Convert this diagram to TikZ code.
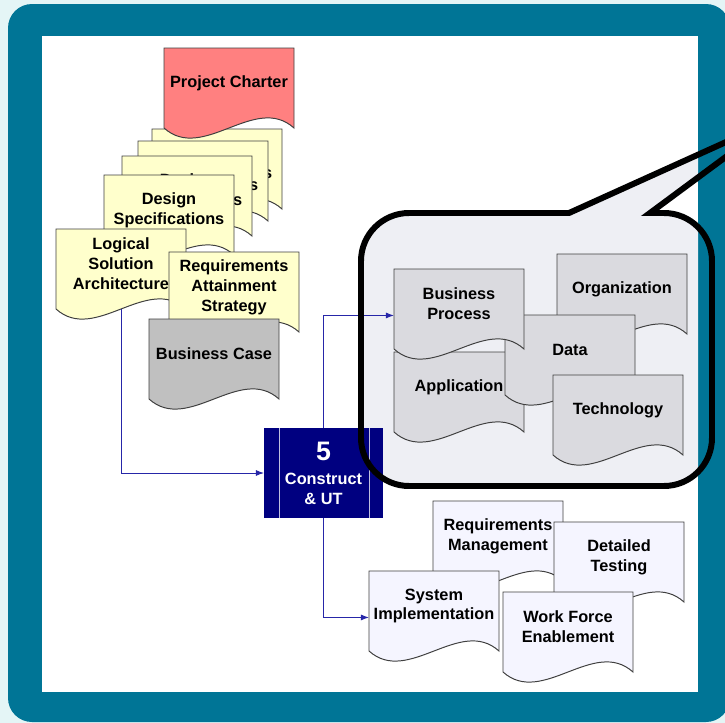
\documentclass[tikz,border=0pt]{standalone}
\usepackage{fontspec}
\setmainfont{Liberation Sans}
\usetikzlibrary{arrows.meta, calc, positioning}

\definecolor{pagebg}{HTML}{E4F5F6}
\definecolor{frameteal}{HTML}{007596}
\definecolor{charterpink}{HTML}{FF8080}
\definecolor{specyellow}{HTML}{FFFFCC}
\definecolor{casegray}{HTML}{C0C0C0}
\definecolor{bubblefill}{HTML}{EEEFF4}
\definecolor{archgray}{HTML}{DADADF}
\definecolor{implilac}{HTML}{F5F5FF}
\definecolor{stepnavy}{HTML}{000080}
\definecolor{linkblue}{HTML}{2626A8}

\tikzset{
  docline/.style={draw=black!75, line width=0.7pt},
  doctext/.style={inner sep=0pt, outer sep=0pt, minimum width=3.25cm, minimum height=1.7cm,
    align=center, font=\fontsize{11.6}{14.2}\selectfont\bfseries},
  stepbox/.style={fill=stepnavy, text=white, inner sep=0pt, outer sep=0pt,
    minimum width=2.975cm, minimum height=2.25cm, align=center,
    font=\fontsize{11.6}{14.2}\selectfont\bfseries},
  link/.style={draw=linkblue, line width=0.7pt, -{Latex[length=2mm,width=1.5mm]}},
}

% document card: name, left x, top y, fill, text
\newcommand{\doccard}[5]{%
  \filldraw[docline, fill=#4] (#2,#3) -- (#2+130,#3) -- (#2+130,#3+80)
    .. controls (#2+91,#3+45) and (#2+39,#3+115) .. (#2,#3+80) -- cycle;
  \node[doctext] (#1) at (#2+65,#3+35) {#5};
  \coordinate (#1-foot) at (#2+65,#3+80);
}

% speech bubble outline
\def\bubblepath{(569,213) -- (777,119) -- (650,213) -- (664,213)
  .. controls (690.5,213) and (712,234.5) .. (712,261)
  -- (712,438) .. controls (712,464.5) and (690.5,486) .. (664,486)
  -- (409,486) .. controls (382.5,486) and (361,464.5) .. (361,438)
  -- (361,261) .. controls (361,234.5) and (382.5,213) .. (409,213) -- cycle}

\begin{document}
\begin{tikzpicture}[x=0.025cm, y=-0.025cm]

\useasboundingbox (0,0) rectangle (725,723);
\fill[pagebg] (0,0) rectangle (725,723);
\fill[frameteal, rounded corners=0.6cm] (8,4) rectangle (730,722);
\fill[white] (42,36) rectangle (698,692);

%// bubble background, cut by the frame
\begin{scope}
\clip (42,36) rectangle (698,692);
\fill[bubblefill] \bubblepath;
\end{scope}

%// inputs
\foreach \n/\x/\y in {1/152/129, 2/138/141, 3/122/156, 4/104/175}
{\doccard{spec\n}{\x}{\y}{specyellow}{Design\\Specifications}}

\doccard{charter}{164}{48}{charterpink}{Project Charter}
\doccard{logical}{56}{229}{specyellow}{Logical\\Solution\\Architecture}
\doccard{attain}{169}{252}{specyellow}{Requirements\\Attainment\\Strategy}
\doccard{bizcase}{149}{319}{casegray}{Business Case}

%// architecture
\doccard{orga}{557}{254}{archgray}{Organization}
\doccard{appl}{394}{352}{archgray}{Application}
\doccard{data}{505}{315}{archgray}{Data}
\doccard{bproc}{394}{269}{archgray}{Business\\Process}
\doccard{techn}{553}{375}{archgray}{Technology}

%// outputs
\doccard{reqmgmt}{433}{501}{implilac}{Requirements\\Management}
\doccard{dettest}{554}{522}{implilac}{Detailed\\Testing}
\doccard{sysimpl}{369}{571}{implilac}{System\\Implementation}
\doccard{workforce}{503}{592}{implilac}{Work Force\\Enablement}

%// step 5
\node[stepbox] (construct) at (323.5,473)
  {{\fontsize{19}{19}\selectfont 5}\\[3pt]Construct\\\& UT};
\draw[white!75!stepnavy, line width=0.6pt] ($(construct.north west)+(15,0)$) -- ($(construct.south west)+(15,0)$);
\draw[white!75!stepnavy, line width=0.6pt] ($(construct.north east)+(-14,0)$) -- ($(construct.south east)+(-14,0)$);

\draw[link] (logical-foot) |- (construct.west);
\draw[link] (construct.north) |- (bproc.190);
\draw[link] (construct.south) |- (sysimpl.190);

\draw[line width=4.25pt] \bubblepath;

\end{tikzpicture}
\end{document}
